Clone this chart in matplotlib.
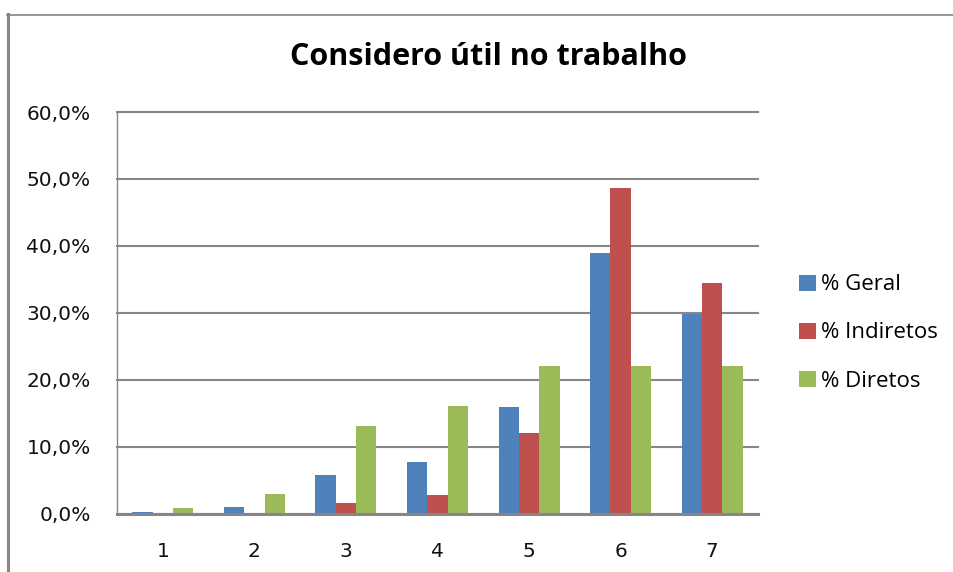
import numpy as np
import matplotlib
matplotlib.use('Agg')
import matplotlib.pyplot as plt
from matplotlib.lines import Line2D
from matplotlib.ticker import FuncFormatter

# dados (%)
categorias = ['1', '2', '3', '4', '5', '6', '7']
geral = [0.2, 1.0, 5.7, 7.7, 15.9, 39.0, 29.8]
indiretos = [0.0, 0.0, 1.6, 2.8, 12.0, 48.6, 34.4]
diretos = [0.8, 2.9, 13.1, 16.0, 22.0, 22.0, 22.0]

series = ['% Geral', '% Indiretos', '% Diretos']
cores = ['#4F81BD', '#C0504D', '#9BBB59']
cinza = '#868686'

fig = plt.figure(figsize=(9.54, 5.72), dpi=100)
ax = fig.add_axes([117 / 954, 1 - 513.5 / 572, 641 / 954, 401.5 / 572])

x = np.arange(len(categorias))
larg = 1 / 4.5
for i, (vals, nome, cor) in enumerate(zip([geral, indiretos, diretos], series, cores)):
    ax.bar(x + (i - 1) * larg, vals, width=larg, color=cor, label=nome, zorder=3)

ax.set_xlim(-0.5, len(categorias) - 0.5)
ax.set_ylim(0, 60)
ax.set_yticks(np.arange(0, 61, 10))
ax.yaxis.set_major_formatter(FuncFormatter(lambda v, p: f'{v:.1f}%'.replace('.', ',')))
ax.set_xticks(x)
ax.set_xticklabels(categorias)
ax.grid(axis='y', color=cinza, linewidth=1.5, zorder=0)
for g in ax.get_ygridlines():
    g.set_clip_on(False)

for s in ['top', 'right']:
    ax.spines[s].set_visible(False)
ax.spines['left'].set_color(cinza)
ax.spines['left'].set_linewidth(1.0)
ax.spines['bottom'].set_color(cinza)
ax.spines['bottom'].set_linewidth(2.2)
ax.spines['bottom'].set_zorder(4)

ax.tick_params(axis='y', length=0, pad=19, labelsize=14.5, labelcolor='#111111')
ax.tick_params(axis='x', length=0, pad=20.5, labelsize=14.5, labelcolor='#111111')

fig.text(489 / 954, 1 - 57 / 572, 'Considero útil no trabalho', ha='center', va='center',
         fontsize=22, fontweight='bold', family=['Open Sans', 'DejaVu Sans'])

ax.legend(loc='center left', bbox_to_anchor=(779 / 954, 1 - 333 / 572),
          bbox_transform=fig.transFigure, frameon=False,
          prop={'family': ['Open Sans', 'DejaVu Sans'], 'size': 16},
          handlelength=0.75, handleheight=0.75, handletextpad=0.25, labelspacing=1.22)

# moldura do gráfico
fig.add_artist(Line2D([8.5 / 954, 8.5 / 954], [0, 1 - 14 / 572], color=cinza, linewidth=2.2))
fig.add_artist(Line2D([7 / 954, 1], [1 - 14.5 / 572, 1 - 14.5 / 572], color=cinza, linewidth=1.2))

fig.savefig('out.png', dpi=100, facecolor='white')
